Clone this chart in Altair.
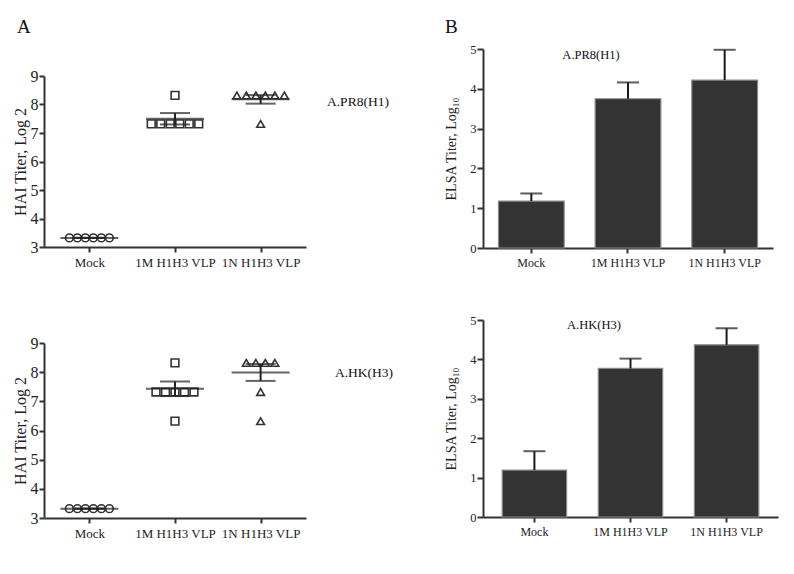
import json
import altair as alt
import pandas as pd

groups = ["Mock", "1M H1H3 VLP", "1N H1H3 VLP"]

# Panel A (top): HAI titers, log2, against A.PR8(H1)
pr8_mock = [3.32, 3.32, 3.32, 3.32, 3.32, 3.32]
pr8_1m = [8.32, 7.32, 7.32, 7.32, 7.32, 7.32, 7.32]
pr8_1n = [8.32, 8.32, 8.32, 8.32, 8.32, 8.32, 7.32]
pr8_hai_mean = [3.32, 7.50, 8.18]
pr8_hai_sem = [0.0, 0.20, 0.15]

# Panel A (bottom): HAI titers, log2, against A.HK(H3)
hk_mock = [3.32, 3.32, 3.32, 3.32, 3.32, 3.32]
hk_1m = [8.32, 7.32, 7.32, 7.32, 7.32, 7.32, 6.32]
hk_1n = [8.32, 8.32, 8.32, 8.32, 7.32, 6.32]
hk_hai_mean = [3.32, 7.43, 7.99]
hk_hai_sem = [0.0, 0.25, 0.29]

# Panel B: ELISA titers, log10 (mean + SEM)
pr8_elisa_mean = [1.18, 3.75, 4.22]
pr8_elisa_sem = [0.19, 0.41, 0.76]
hk_elisa_mean = [1.19, 3.77, 4.37]
hk_elisa_sem = [0.48, 0.25, 0.42]

FONT = "Liberation Serif"
INK = "#333333"
LABEL_EXPR = json.dumps(groups) + "[datum.value]"
A_PAD = 0.53


def hai_panel(lists, means, sems, label, label_x, label_y, width, height):
    px_per_unit = width / (len(groups) - 1 + 2 * A_PAD)
    spacing_px = [8.0, 9.5, 9.5]
    rows = []
    for g, vals in enumerate(lists):
        uniq = sorted(set(vals))
        for v in uniq:
            k = vals.count(v)
            for j in range(k):
                off = (j - (k - 1) / 2) * spacing_px[g] / px_per_unit
                rows.append({"x": g + off, "y": v, "group": groups[g]})
    pts = pd.DataFrame(rows)
    stats = pd.DataFrame({
        "x": list(range(len(groups))),
        "y": means,
        "lo": [m - s for m, s in zip(means, sems)],
        "hi": [m + s for m, s in zip(means, sems)],
    })

    x_axis = alt.Axis(values=[0, 1, 2], labelExpr=LABEL_EXPR, title=None, grid=False,
                      labelFontSize=13, labelPadding=4, tickSize=5, labelOverlap=False)
    y_axis = alt.Axis(values=[3, 4, 5, 6, 7, 8, 9], title="HAI Titer, Log 2", grid=False,
                      labelFontSize=16, titleFontSize=16, labelPadding=1, titlePadding=2,
                      tickSize=5)
    xs = alt.Scale(domain=[-A_PAD, len(groups) - 1 + A_PAD], nice=False, zero=False)
    ys = alt.Scale(domain=[3, 9], nice=False, zero=False)

    points = alt.Chart(pts).mark_point(filled=False, strokeWidth=1.6, size=60, opacity=1).encode(
        x=alt.X("x:Q", scale=xs, axis=x_axis),
        y=alt.Y("y:Q", scale=ys, axis=y_axis),
        shape=alt.Shape("group:N", scale=alt.Scale(domain=groups, range=["circle", "square", "triangle-up"]), legend=None),
        color=alt.value(INK),
    )
    mean_line = alt.Chart(stats).mark_tick(orient="horizontal", size=58, thickness=2, color="#222").encode(
        x=alt.X("x:Q", scale=xs, axis=x_axis),
        y=alt.Y("y:Q", scale=ys, axis=y_axis),
    )
    cap_hi = alt.Chart(stats).mark_tick(orient="horizontal", size=30, thickness=2, color="#222").encode(
        x=alt.X("x:Q", scale=xs, axis=x_axis),
        y=alt.Y("hi:Q", scale=ys, axis=y_axis),
    )
    cap_lo = alt.Chart(stats).mark_tick(orient="horizontal", size=30, thickness=2, color="#222").encode(
        x=alt.X("x:Q", scale=xs, axis=x_axis),
        y=alt.Y("lo:Q", scale=ys, axis=y_axis),
    )
    whisk = alt.Chart(stats).mark_rule(strokeWidth=2, color="#222").encode(
        x=alt.X("x:Q", scale=xs, axis=x_axis),
        y=alt.Y("lo:Q", scale=ys, axis=y_axis),
        y2="hi:Q",
    )
    txt = alt.Chart(pd.DataFrame({"t": [label]})).mark_text(
        align="left", baseline="middle", fontSize=13.5, color="#111", font=FONT
    ).encode(text="t:N", x=alt.value(label_x), y=alt.value(label_y))
    return alt.layer(points, whisk, mean_line, cap_hi, cap_lo, txt).properties(width=width, height=height)


def elisa_panel(means, sems, label, label_x, label_y, width, height, p_inner, p_outer):
    df = pd.DataFrame({
        "group": groups,
        "mean": means,
        "hi": [m + s for m, s in zip(means, sems)],
    })
    x_axis = alt.Axis(title=None, labelAngle=0, grid=False, labelFontSize=12,
                      labelPadding=4, tickSize=5, labelOverlap=False)
    y_axis = alt.Axis(values=[0, 1, 2, 3, 4, 5], title="ELSA Titer, Log\u2081\u2080", grid=False,
                      labelFontSize=12.5, titleFontSize=14, labelPadding=1, titlePadding=11,
                      tickSize=6)
    xs = alt.Scale(domain=groups, paddingInner=p_inner, paddingOuter=p_outer)
    ys = alt.Scale(domain=[0, 5], nice=False)
    xe = alt.X("group:N", sort=groups, scale=xs, axis=x_axis)
    bars = alt.Chart(df).mark_bar(color="#333333", stroke="#8a8a8a", strokeWidth=1.2).encode(
        x=xe, y=alt.Y("mean:Q", scale=ys, axis=y_axis),
    )
    err = alt.Chart(df).mark_rule(strokeWidth=2, color="#1a1a1a").encode(
        x=xe, y=alt.Y("mean:Q", scale=ys, axis=y_axis), y2="hi:Q",
    )
    cap = alt.Chart(df).mark_tick(size=22, thickness=2, color="#1a1a1a").encode(
        x=xe, y=alt.Y("hi:Q", scale=ys, axis=y_axis),
    )
    txt = alt.Chart(pd.DataFrame({"t": [label]})).mark_text(
        align="center", baseline="middle", fontSize=12.5, color="#111", font=FONT
    ).encode(text="t:N", x=alt.value(label_x), y=alt.value(label_y))
    return alt.layer(bars, err, cap, txt).properties(width=width, height=height)


def panel_letter(letter, dx, baseline_y, width, height):
    return alt.Chart(pd.DataFrame({"t": [letter]})).mark_text(
        align="left", baseline="alphabetic", fontSize=19, color="#111", font=FONT
    ).encode(text="t:N", x=alt.value(dx), y=alt.value(baseline_y)).properties(width=width, height=height)


a_top = hai_panel([pr8_mock, pr8_1m, pr8_1n], pr8_hai_mean, pr8_hai_sem, "A.PR8(H1)",
                  283, 26, 262, 171)
a_bot = hai_panel([hk_mock, hk_1m, hk_1n], hk_hai_mean, hk_hai_sem, "A.HK(H3)",
                  291, 30, 262, 175)
b_top = elisa_panel(pr8_elisa_mean, pr8_elisa_sem, "A.PR8(H1)", 108, 6, 290, 199, 0.32, 0.16)
b_bot = elisa_panel(hk_elisa_mean, hk_elisa_sem, "A.HK(H3)", 111, 5, 295, 197, 0.33, 0.2)

letter_a = panel_letter("A", -27, 20, 262, 55)
letter_b = panel_letter("B", -38, 20, 290, 30)

left = alt.vconcat(letter_a, alt.vconcat(a_top, a_bot, spacing=66), spacing=0)
right = alt.vconcat(letter_b, alt.vconcat(b_top, b_bot, spacing=46), spacing=0)

chart = alt.hconcat(left, right, spacing=50).properties(
    padding={"left": 4, "top": 5, "right": 5, "bottom": 5}
).configure(font=FONT).configure_view(stroke=None).configure_axis(
    domainColor=INK, domainWidth=2, tickColor=INK, tickWidth=2,
    labelColor="#222", titleColor="#222", titleFontWeight="normal",
    labelFont=FONT, titleFont=FONT,
)

chart.save("out.html", embed_options={"renderer": "svg", "actions": False})
